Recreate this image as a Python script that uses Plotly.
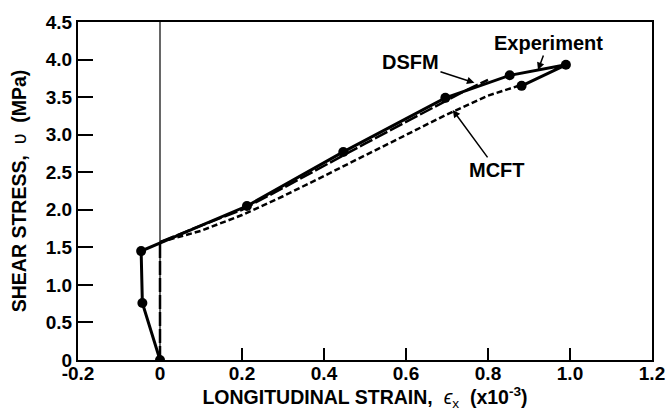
import plotly.graph_objects as go

# Experiment (solid line with markers)
exp_x = [0.0, -0.043, -0.046, 0.212, 0.447, 0.696, 0.853, 0.99, 0.882]
exp_y = [0.0, 0.76, 1.45, 2.05, 2.77, 3.49, 3.79, 3.93, 3.65]

# DSFM (long dash)
dsfm_x = [0.0, 0.0, 0.1, 0.2, 0.3, 0.4, 0.5, 0.6, 0.7, 0.75, 0.8]
dsfm_y = [0.0, 1.57, 1.79, 2.00, 2.29, 2.59, 2.88, 3.17, 3.46, 3.60, 3.73]

# MCFT (short dash)
mcft_x = [0.0, 0.05, 0.1, 0.2, 0.3, 0.4, 0.5, 0.6, 0.7, 0.8, 0.85, 0.88]
mcft_y = [1.57, 1.64, 1.72, 1.93, 2.18, 2.45, 2.72, 3.00, 3.27, 3.52, 3.61, 3.66]

x_ticks = [-0.2, 0.0, 0.2, 0.4, 0.6, 0.8, 1.0, 1.2]
x_labels = ["-0.2", "0", "0.2", "0.4", "0.6", "0.8", "1.0", "1.2"]
y_ticks = [0, 0.5, 1.0, 1.5, 2.0, 2.5, 3.0, 3.5, 4.0, 4.5]
y_labels = ["0", "0.5", "1.0", "1.5", "2.0", "2.5", "3.0", "3.5", "4.0", "4.5"]

FONT = "Liberation Sans, Arial, Helvetica, sans-serif"

fig = go.Figure()

fig.add_vline(x=0, line=dict(color="black", width=1.2))

fig.add_trace(go.Scatter(x=mcft_x, y=mcft_y, mode="lines",
                         line=dict(color="black", width=2.5, dash="6px,3px"),
                         name="MCFT"))
fig.add_trace(go.Scatter(x=dsfm_x, y=dsfm_y, mode="lines",
                         line=dict(color="black", width=2.5, dash="14px,3px"),
                         name="DSFM"))
fig.add_trace(go.Scatter(x=exp_x, y=exp_y, mode="lines+markers",
                         line=dict(color="black", width=3),
                         marker=dict(color="black", size=10),
                         name="Experiment"))

ann_font = dict(family=FONT, size=20, color="black", weight="bold")
fig.add_annotation(x=0.922, y=3.86, text="Experiment", showarrow=True,
                   ax=10, ay=-27, arrowhead=2, arrowsize=1, arrowwidth=1.5,
                   arrowcolor="black", font=ann_font)
fig.add_annotation(x=0.767, y=3.69, text="DSFM", showarrow=True,
                   ax=-64, ay=-21, arrowhead=2, arrowsize=1, arrowwidth=1.5,
                   arrowcolor="black", font=ann_font)
fig.add_annotation(x=0.714, y=3.33, text="MCFT", showarrow=True,
                   ax=44, ay=60, arrowhead=2, arrowsize=1, arrowwidth=1.5,
                   arrowcolor="black", font=ann_font)

tick_font = dict(family=FONT, size=19, color="black", weight="bold")
title_font = dict(family=FONT, size=19.5, color="black", weight="bold")

fig.update_xaxes(range=[-0.2, 1.2], tickvals=x_ticks, ticktext=x_labels,
                 ticks="inside", ticklen=12, tickwidth=2, tickcolor="black",
                 showline=True, linecolor="black", linewidth=2, mirror=True,
                 showgrid=False, zeroline=False, tickfont=tick_font,
                 ticklabelstandoff=-5, automargin=False,
                 title=dict(text="LONGITUDINAL STRAIN,  <span style='font-weight:normal'><i>ϵ</i><sub>x</sub></span>  (x10<sup>-3</sup>)",
                            font=title_font, standoff=6))
fig.update_yaxes(range=[0, 4.5], tickvals=y_ticks, ticktext=y_labels,
                 ticks="inside", ticklen=15, tickwidth=2, tickcolor="black",
                 showline=True, linecolor="black", linewidth=2, mirror=True,
                 showgrid=False, zeroline=False, tickfont=tick_font,
                 automargin=False,
                 title=dict(text="SHEAR STRESS,  <span style='font-weight:normal'>υ</span>  (MPa)",
                            font=title_font, standoff=14))

fig.update_layout(width=668, height=414, autosize=False,
                  margin=dict(l=78, r=16, t=22, b=54),
                  paper_bgcolor="white", plot_bgcolor="white",
                  showlegend=False)

fig.write_html("out.html")
